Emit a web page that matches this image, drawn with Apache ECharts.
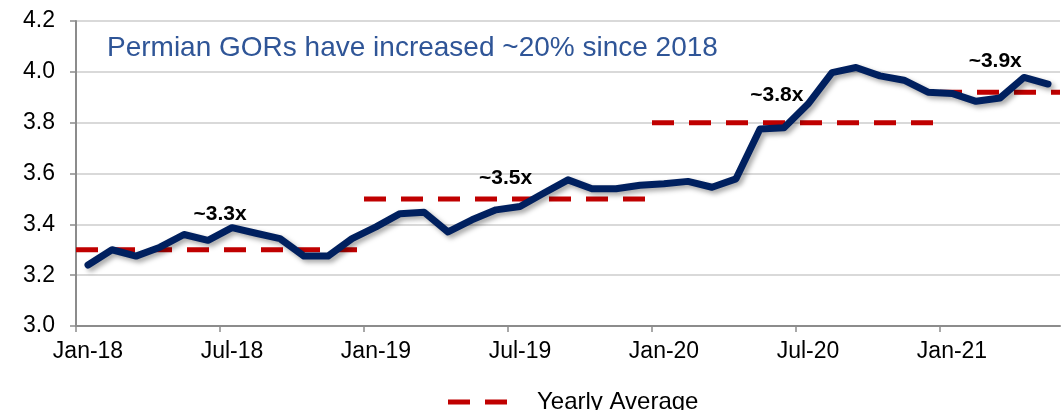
<!DOCTYPE html>
<html>
<head>
<meta charset="utf-8">
<script src="https://cdn.jsdelivr.net/npm/echarts@6/dist/echarts.min.js"></script>
<style>
  html, body { margin: 0; padding: 0; background: #fff; }
  #chart { width: 1063px; height: 410px; }
</style>
</head>
<body>
<div id="chart"></div>
<script>
// monthly GOR, Jan-18 .. May-21
const gor = [
  3.24, 3.30, 3.275, 3.31, 3.36, 3.337, 3.387, 3.365, 3.344, 3.275, 3.275, 3.344,
  3.39, 3.442, 3.448, 3.37, 3.418, 3.457, 3.47, 3.523, 3.575, 3.54, 3.54, 3.554,
  3.56, 3.569, 3.546, 3.579, 3.775, 3.78, 3.873, 3.997, 4.017, 3.984, 3.967, 3.92,
  3.915, 3.884, 3.897, 3.978, 3.952
]

// yearly averages (month index where each year starts / ends)
const yearStart = [0, 12, 24, 36]
const yearEnd = [12, 24, 36, 41]
const yearAvg = [3.30, 3.50, 3.80, 3.92]

const tickMonths = [0, 6, 12, 18, 24, 30, 36]
const tickLabels = ['Jan-18', 'Jul-18', 'Jan-19', 'Jul-19', 'Jan-20', 'Jul-20', 'Jan-21']

// callouts: text, month, value
const calloutText = ['~3.3x', '~3.5x', '~3.8x', '~3.9x']
const calloutMonth = [6.0, 17.9, 29.2, 38.3]
const calloutValue = [3.44, 3.58, 3.91, 4.04]

const title = 'Permian GORs have increased ~20% since 2018'

const navy = '#00205f'
const red = '#c00000'

const chart = echarts.init(document.getElementById('chart'))

// points sit in the middle of each month, ticks on month boundaries
const mid = (m) => m + 0.5

const avgSeries = yearAvg.map((v, i) => ({
    name: 'Yearly Average',
    type: 'line',
    symbol: 'none',
    silent: true,
    z: 3,
    lineStyle: { color: red, width: 5, type: [22, 15] },
    itemStyle: { color: red },
    data: [[yearStart[i], v], [yearEnd[i], v]]
}))

const option = {
    animation: false,
    backgroundColor: '#fff',
    grid: { left: 76, right: 3, top: 21, bottom: 84 },
    title: {
        text: title,
        left: 102,
        top: 29,
        textStyle: { color: '#2f5597', fontSize: 28, fontWeight: 'normal', fontFamily: 'Liberation Sans' }
    },
    legend: {
        data: ['Yearly Average'],
        left: 443,
        top: 385,
        icon: 'path://M0,0h22v5h-22z M37,0h22v5h-22z',
        itemWidth: 59,
        itemHeight: 5,
        textStyle: { fontSize: 24, color: '#000', fontFamily: 'Liberation Sans', padding: [0, 0, 0, 25] }
    },
    xAxis: {
        type: 'value',
        min: 0,
        max: 41,
        axisLine: { show: true, lineStyle: { color: '#8c8c8c', width: 2 } },
        axisTick: { show: true, length: 6, customValues: tickMonths, lineStyle: { color: '#8c8c8c', width: 1.5 } },
        axisLabel: {
            customValues: tickMonths.map(mid),
            margin: 14,
            fontSize: 23,
            color: '#000',
            fontFamily: 'Liberation Sans',
            formatter: (v) => tickLabels[tickMonths.indexOf(v - 0.5)] || ''
        },
        splitLine: { show: false }
    },
    yAxis: {
        type: 'value',
        min: 3.0,
        max: 4.2,
        interval: 0.2,
        axisLine: { show: true, lineStyle: { color: '#8c8c8c', width: 2 } },
        axisTick: { show: true, length: 6, lineStyle: { color: '#8c8c8c', width: 1.5 } },
        axisLabel: {
            margin: 21,
            fontSize: 23,
            color: '#000',
            fontFamily: 'Liberation Sans',
            formatter: (v) => v.toFixed(1)
        },
        splitLine: { show: true, lineStyle: { color: '#d9d9d9', width: 2 } }
    },
    series: [
        {
            name: 'GOR',
            type: 'line',
            symbol: 'none',
            z: 4,
            lineStyle: {
                color: navy,
                width: 7,
                cap: 'round',
                join: 'round',
                shadowColor: 'rgba(0,0,0,0.35)',
                shadowBlur: 5,
                shadowOffsetX: 3,
                shadowOffsetY: 3
            },
            data: gor.map((v, i) => [mid(i), v]),
            markPoint: {
                symbol: 'circle',
                symbolSize: 0,
                silent: true,
                label: {
                    show: true,
                    color: '#000',
                    fontSize: 21,
                    fontWeight: 'bold',
                    fontFamily: 'Liberation Sans',
                    formatter: (p) => p.name
                },
                data: calloutText.map((t, i) => ({ name: t, coord: [calloutMonth[i], calloutValue[i]] }))
            }
        },
        ...avgSeries
    ]
}

chart.setOption(option)
</script>
</body>
</html>
